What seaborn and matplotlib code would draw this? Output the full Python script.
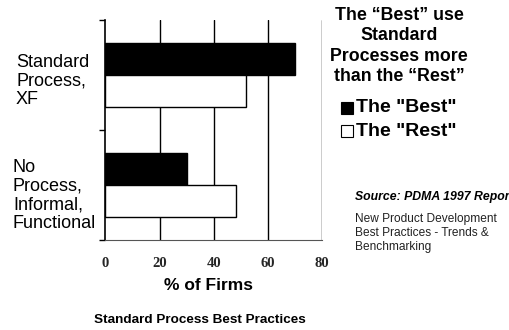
import matplotlib
matplotlib.use("Agg")
import matplotlib.pyplot as plt
import seaborn as sns
import pandas as pd

# Share of firms by process type, "Best" vs "Rest"
categories = ["Standard\nProcess,\nXF", "No\nProcess,\nInformal,\nFunctional"]
groups = ['The "Best"', 'The "Rest"']
best_values = [70, 30]
rest_values = [52, 48]
x_ticks = [0, 20, 40, 60, 80]

df = pd.DataFrame({
    "category": categories * 2,
    "group": [groups[0]] * 2 + [groups[1]] * 2,
    "value": best_values + rest_values,
})

sns.set_theme(style="white")
plt.rcParams["font.family"] = ["Liberation Sans", "DejaVu Sans"]

fig = plt.figure(figsize=(5.09, 3.30), dpi=100)
W, H = 509, 330
ax = fig.add_axes([105.3 / W, 1 - 240 / H, 217 / W, 220 / H])

sns.barplot(data=df, x="value", y="category", hue="group", orient="h",
            palette=["black", "white"], edgecolor="black", linewidth=1.0,
            width=0.58, ax=ax, legend=False, zorder=3)

ax.set_xlim(0, 80)
ax.set_ylim(1.5, -0.5)
ax.set_xticks(x_ticks)
ax.set_xticklabels([str(t) for t in x_ticks], family="Liberation Serif",
                   fontweight="bold", fontsize=10.5)
ax.tick_params(axis="x", length=0, pad=12)
ax.set_yticks([-0.5, 0.5, 1.5])
ax.set_yticklabels([])
ax.tick_params(axis="y", length=4, width=1, color="black", left=True)
ax.set_xlabel("")
ax.set_ylabel("")

for x in x_ticks[1:]:
    ax.axvline(x, color="black", linewidth=1.0, zorder=1)

for side in ("top", "right"):
    ax.spines[side].set_visible(False)
ax.spines["left"].set_color("black")
ax.spines["left"].set_linewidth(1.2)
ax.spines["bottom"].set_color("#555555")
ax.spines["bottom"].set_linewidth(0.8)

def px(x, y):
    return x / W, 1 - y / H

# Category labels
fig.text(*px(16, 81), categories[0], ha="left", va="center", fontsize=13,
         linespacing=1.15, color="black")
fig.text(*px(13, 195.5), categories[1], ha="left", va="center", fontsize=13,
         linespacing=1.15, color="black")

fig.text(*px(209, 285), "% of Firms", ha="center", va="center", fontsize=12.5,
         fontweight="bold", color="black")
fig.text(*px(200, 320), "Standard Process Best Practices", ha="center",
         va="center", fontsize=9.7, fontweight="bold", color="black")

# Side headline
fig.text(*px(399, 46), "The \u201cBest\u201d use\nStandard\nProcesses more\nthan the \u201cRest\u201d",
         ha="center", va="center", fontsize=12.8, fontweight="bold",
         linespacing=1.25, color="black")

# Legend entries
fig.patches.append(plt.Rectangle(px(341, 114), 12 / W, 12 / H, transform=fig.transFigure,
                                 facecolor="black", edgecolor="black", linewidth=0.8))
fig.patches.append(plt.Rectangle(px(341, 137), 12 / W, 12 / H, transform=fig.transFigure,
                                 facecolor="white", edgecolor="black", linewidth=0.8))
fig.text(*px(356, 108), groups[0], ha="left", va="center", fontsize=14,
         fontweight="bold", color="black")
fig.text(*px(356, 131), groups[1], ha="left", va="center", fontsize=14,
         fontweight="bold", color="black")

fig.text(*px(355, 197), "Source: PDMA 1997 Report", ha="left", va="center",
         fontsize=8.8, fontweight="bold", fontstyle="italic", color="black")
fig.text(*px(355, 213), "New Product Development\nBest Practices - Trends &\nBenchmarking",
         ha="left", va="top", fontsize=8.6, linespacing=1.22, color="#222222")

fig.savefig("out.png", dpi=100)
